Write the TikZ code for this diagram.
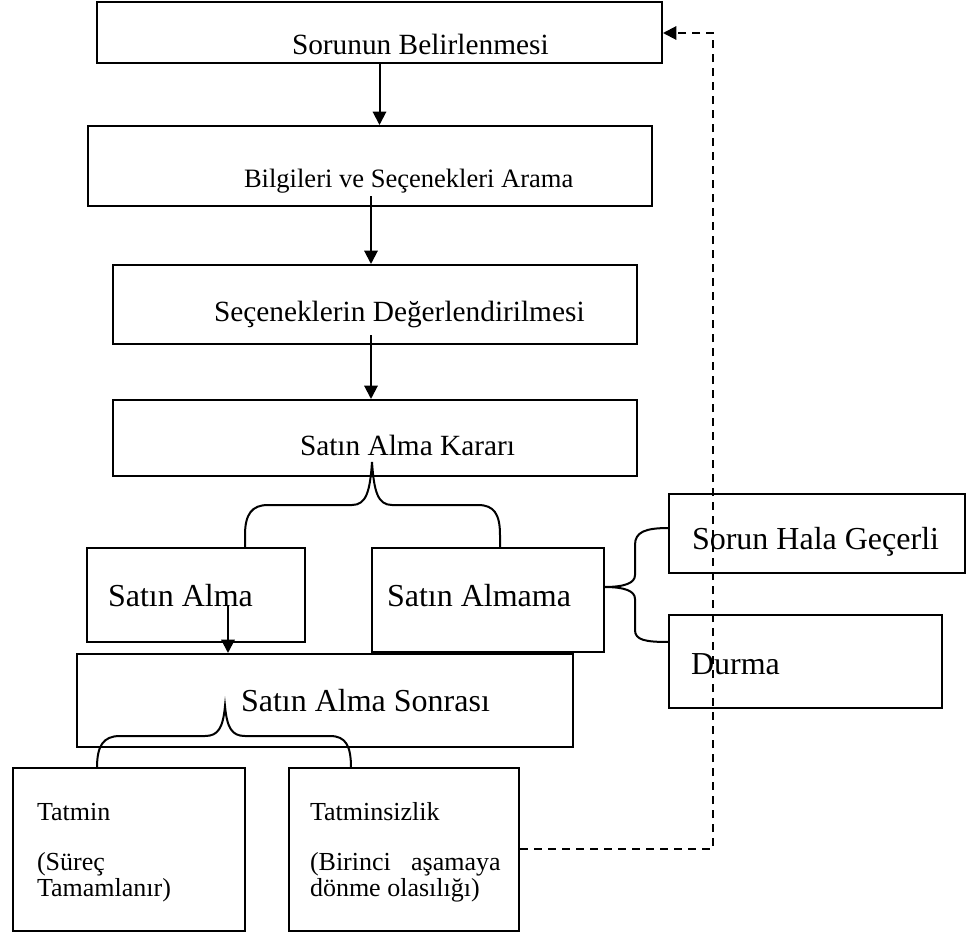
\documentclass[tikz,border=0pt]{standalone}
\usepackage{fontspec}
\setmainfont{Liberation Serif}
\usetikzlibrary{arrows.meta,fit}
\begin{document}
\begin{tikzpicture}[x=0.75pt,y=-0.75pt,
  line width=1.5pt,
  box/.style={draw,inner sep=0pt,rectangle},
  arr/.style={-{Triangle[length=10pt,width=10pt]}},
  fb/.style={dash pattern=on 6pt off 4.5pt},
  txt/.style={anchor=base west,inner sep=0pt},
  fa/.style={font=\fontsize{22}{26}\selectfont},
  fsm/.style={font=\fontsize{19.9}{24}\selectfont},
  fbig/.style={font=\fontsize{24}{29}\selectfont},
  fno/.style={font=\fontsize{19.5}{23}\selectfont}]
\useasboundingbox (0,0) rectangle (972,932);

% main chain of boxes
\node[box,fit={(97,2) (662,63)}] (b1) {};
\node[box,fit={(88,126) (652,206)}] (b2) {};
\node[box,fit={(113,265) (637,344)}] (b3) {};
\node[box,fit={(113,400) (637,476)}] (b4) {};
\node[box,fit={(87,548) (305,642)}] (b5) {};
\node[box,fit={(372,548) (604,652)}] (b6) {};
\node[box,fit={(77,654) (573,747)}] (b7) {};
\node[box,fit={(669,494) (965,573)}] (b8) {};
\node[box,fit={(669,615) (942,708)}] (b9) {};
\node[box,fit={(13,768) (245,931)}] (b10) {};
\node[box,fit={(289,768) (519,931)}] (b11) {};

% labels
\node[txt,fa] (t1) at (291,54) {Sorunun Belirlenmesi};
\node[txt,fsm] (t2) at (243,187) {Bilgileri ve Seçenekleri Arama};
\node[txt,fa] (t3) at (213,321) {Seçeneklerin Değerlendirilmesi};
\node[txt,fa] (t4) at (299,455) {Satın Alma Kararı};
\node[txt,fbig] (t5) at (107,606) {Satın Alma};
\node[txt,fbig] (t6) at (386,606) {Satın Almama};
\node[txt,fbig] (t7) at (240,711) {Satın Alma Sonrası};
\node[txt,fbig] (t8) at (691,549) {Sorun Hala Geçerli};
\node[txt,fbig] (t9) at (690,674) {Durma};
\node[txt,fno] (t10a) at (36,820) {Tatmin};
\node[txt,fno] (t10b) at (36,870) {(Süreç};
\node[txt,fno] (t10c) at (36,896) {Tamamlanır)};
\node[txt,fno] (t11a) at (309,820) {Tatminsizlik};
\node[txt,fno] (t11b) at (309,870) {\hbox to 143pt{(Birinci\hfill aşamaya}};
\node[txt,fno] (t11c) at (309,896) {dönme olasılığı)};

% arrows between stages
\coordinate (s2) at (371,196);
\coordinate (s3) at (371,335);
\coordinate (s4) at (228,605);
\draw[arr] (b1.south) -- (b1.south |- b2.north);
\draw[arr] (s2) -- (s2 |- b3.north);
\draw[arr] (s3) -- (s3 |- b4.north);
\draw[arr] (s4) -- (s4 |- b7.north);

% brace: decision -> buy / not buy
\draw (245,548) -- (245,535) .. controls (245,514) and (252,505) .. (268,505)
  -- (352,505) .. controls (366,505) and (370,492) .. (372,462)
  .. controls (374,492) and (378,505) .. (392,505)
  -- (478,505) .. controls (494,505) and (500,514) .. (500,535) -- (500,548);

% brace: after purchase -> satisfaction / dissatisfaction
\draw (97,768) .. controls (97,746) and (103,736) .. (120,736)
  -- (205,736) .. controls (218,736) and (223,728) .. (225,706)
  .. controls (227,728) and (232,736) .. (245,736)
  -- (330,736) .. controls (346,736) and (351,746) .. (351,768);

% brace: not buying -> two outcomes
\draw (669,528) .. controls (645,528) and (635,532) .. (635,545)
  -- (635,575) .. controls (635,583) and (625,587) .. (604,587)
  .. controls (625,587) and (635,591) .. (635,599)
  -- (635,630) .. controls (635,640) and (645,642) .. (669,642);

% feedback loop back to the first stage
\coordinate (d1) at (713,849);
\coordinate (d2) at (713,33);
\draw[fb,arr] (b11.east |- d1) -- (d1) -- (d2) -- (b1.east |- d2);
\end{tikzpicture}
\end{document}
